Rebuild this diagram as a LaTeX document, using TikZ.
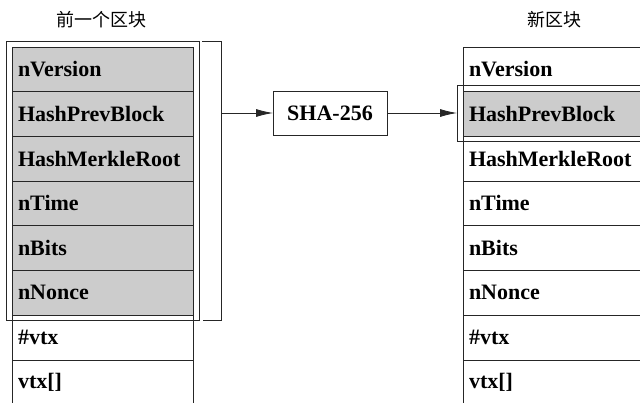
\documentclass[tikz,border=0pt]{standalone}
\usepackage{fontspec}
\setmainfont{Liberation Serif}
\newfontfamily\cjk{Noto Sans CJK SC}
\usetikzlibrary{arrows.meta,positioning}

\tikzset{
  field/.style={draw=black!85,line width=0.8pt,anchor=north west,outer sep=0pt,
    inner xsep=6pt,text width=169pt,minimum height=44.7pt,align=left,
    font=\fontsize{22}{24}\selectfont\bfseries},
  hashed/.style={field,fill=black!20},
  frame/.style={draw=black!85,line width=0.8pt,outer sep=0pt,inner sep=0pt},
  link/.style={draw=black!85,line width=0.8pt,-{Latex[length=17pt,width=8pt]}}
}

\begin{document}
\begin{tikzpicture}[x=1pt,y=-1pt]
\useasboundingbox (0,0) rectangle (640,402);
% previous block
\node[font=\cjk\fontsize{18}{20}\selectfont] (ptitle) at (101,20) {前一个区块};
\node[hashed] (pver) at (12,47) {nVersion};
\node[hashed,below=0pt of pver] (pprev) {HashPrevBlock};
\node[hashed,below=0pt of pprev] (pmerkle) {HashMerkleRoot};
\node[hashed,below=0pt of pmerkle] (ptime) {nTime};
\node[hashed,below=0pt of ptime] (pbits) {nBits};
\node[hashed,below=0pt of pbits] (pnonce) {nNonce};
\node[field,below=0pt of pnonce] (pnvtx) {\#vtx};
\node[field,below=0pt of pnvtx] (pvtx) {vtx[]};
\node[frame,anchor=north west,minimum width=193pt,minimum height=279pt] (pframe) at (6,41) {};
\draw[frame] (202,41) -| (221,320) -- (203,320);
\coordinate (tap) at (221,113);
% hash
\node[frame,minimum width=114pt,minimum height=44pt,font=\fontsize{22}{24}\selectfont\bfseries] (sha) at (330,113) {SHA-256};
% new block
\node[font=\cjk\fontsize{18}{20}\selectfont] (ntitle) at (554,20) {新区块};
\node[field] (nver) at (463,47) {nVersion};
\node[hashed,below=0pt of nver] (nprev) {HashPrevBlock};
\node[field,below=0pt of nprev] (nmerkle) {HashMerkleRoot};
\node[field,below=0pt of nmerkle] (ntime) {nTime};
\node[field,below=0pt of ntime] (nbits) {nBits};
\node[field,below=0pt of nbits] (nnonce) {nNonce};
\node[field,below=0pt of nnonce] (nnvtx) {\#vtx};
\node[field,below=0pt of nnvtx] (nvtx) {vtx[]};
\node[frame,anchor=west,minimum width=203pt,minimum height=56pt] (slot) at (457,113) {};
% arrows
\draw[link] (tap) -- (sha);
\draw[link] (sha) -- (slot);
\end{tikzpicture}
\end{document}
